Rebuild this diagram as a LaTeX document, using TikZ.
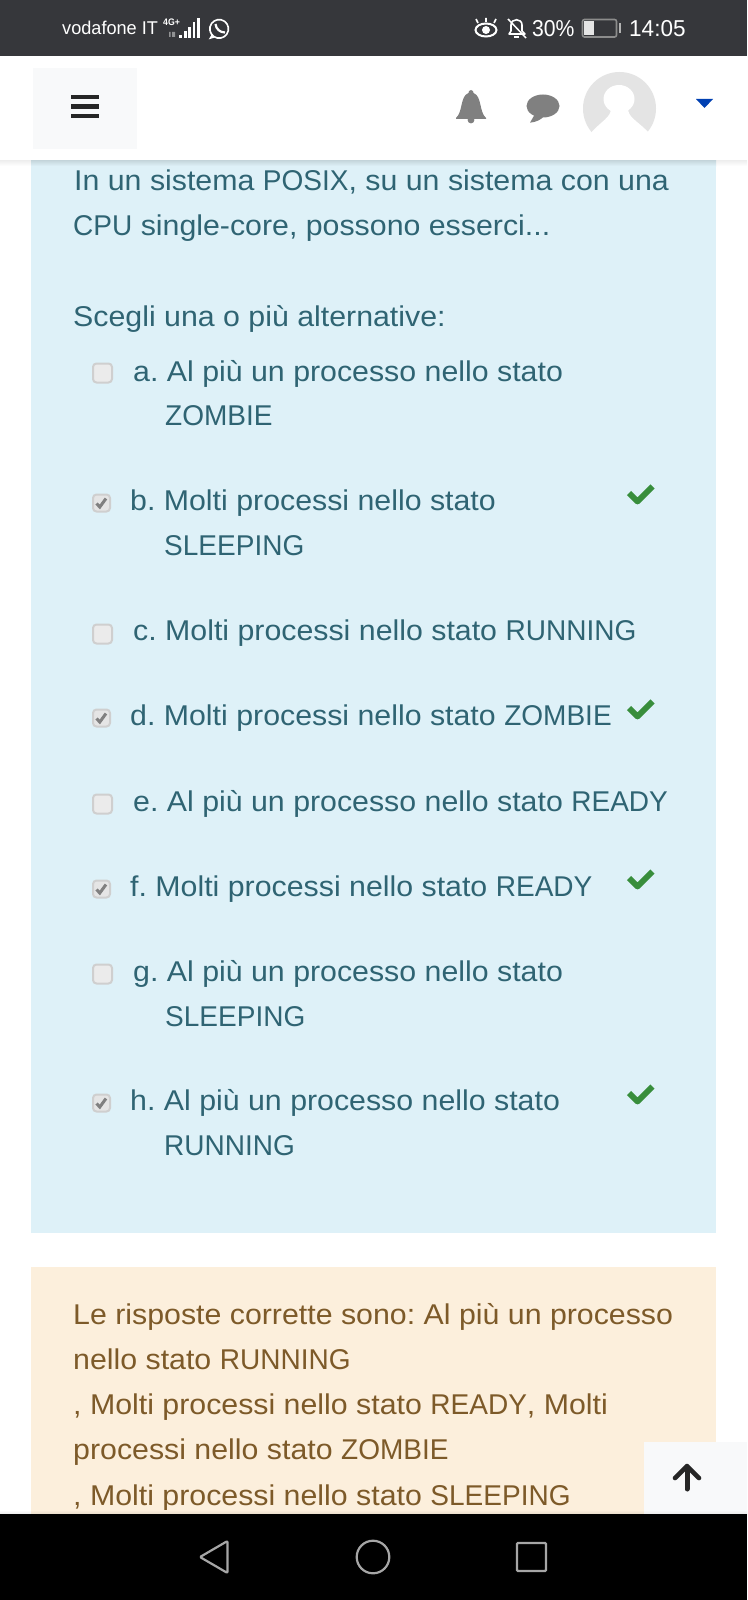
\documentclass[tikz,border=0pt]{standalone}
\usepackage{fontspec}
\setmainfont[FakeStretch=1.06]{Liberation Sans}
\newfontfamily\capsfont[FakeStretch=.98]{Liberation Sans}
\newfontfamily\barfont[FakeStretch=.92]{Liberation Sans}
\newcommand{\cw}[1]{{\capsfont #1}}
\frenchspacing
\usetikzlibrary{calc}
\definecolor{infobg}{HTML}{DEF1F8}
\definecolor{infotext}{HTML}{2F6473}
\definecolor{warnbg}{HTML}{FCEFDC}
\definecolor{warntext}{HTML}{7D5A29}
\definecolor{barbg}{HTML}{36373B}
\definecolor{lightbox}{HTML}{F8F9FA}
\definecolor{okgreen}{HTML}{388E3C}
\definecolor{navgray}{HTML}{A6A6A6}
\definecolor{avatargray}{HTML}{E4E4E4}
\tikzstyle{answer}=[anchor=base west,inner sep=0pt,text=infotext,font=\fontsize{28.6}{34}\selectfont]
\tikzstyle{verdict}=[anchor=base west,inner sep=0pt,text=warntext,font=\fontsize{28.6}{34}\selectfont]
\tikzstyle{statustext}=[anchor=base west,inner sep=0pt,text=white]
\tikzstyle{emptybox}=[draw=black!19,fill=black!8,line width=2pt,rounded corners=3.5pt]
\tikzstyle{tickbox}=[draw=black!19,fill=black!10,line width=2pt,rounded corners=3.5pt]
\tikzstyle{tick}=[draw=okgreen,line width=5.8pt,line join=round]
\tikzstyle{navicon}=[draw=navgray,line width=2.2pt,rounded corners=1pt]
\begin{document}
\begin{tikzpicture}[x=1pt,y=-1pt]
   \useasboundingbox (0,0) rectangle (747,1600);
   \fill[white] (0,0) rectangle (747,1600);

   % panels
   \fill[infobg] (31,160) rectangle (716,1233);
   \fill[warnbg] (31,1267) rectangle (716,1514);

   % question and answers
   \foreach \xpos/\ypos/\name/\label in {
      74/190/Q1/{In un sistema \cw{POSIX}, su un sistema con una},
      73/235/Q2/{\cw{CPU} single-core, possono esserci...},
      73/326/Q3/{Scegli una o più alternative:},
      133/381/Aa/{a. Al più un processo nello stato},
      165/425/Ab/{\cw{ZOMBIE}},
      130/510/Ba/{b. Molti processi nello stato},
      164/555/Bb/{\cw{SLEEPING}},
      133/640/Ca/{c. Molti processi nello stato \cw{RUNNING}},
      130/725/Da/{d. Molti processi nello stato \cw{ZOMBIE}},
      133/811/Ea/{e. Al più un processo nello stato \cw{READY}},
      130/896/Fa/{f. Molti processi nello stato \cw{READY}},
      133/981/Ga/{g. Al più un processo nello stato},
      165/1026/Gb/{\cw{SLEEPING}},
      130/1110/Ha/{h. Al più un processo nello stato},
      164/1155/Hb/{\cw{RUNNING}}}
      \node[answer] (\name) at (\xpos,\ypos) {\label};

   % feedback
   \foreach \xpos/\ypos/\name/\label in {
      73/1324/R1/{Le risposte corrette sono: Al più un processo},
      73/1369/R2/{nello stato \cw{RUNNING}},
      73/1414/R3/{, Molti processi nello stato \cw{READY}, Molti},
      73/1459/R4/{processi nello stato \cw{ZOMBIE}},
      73/1505/R5/{, Molti processi nello stato \cw{SLEEPING}}}
      \node[verdict] (\name) at (\xpos,\ypos) {\label};

   % check boxes
   \foreach \ypos in {373,634,804,974}
      \draw[emptybox] (93,\ypos-9.5) rectangle (112,\ypos+9.5);
   \foreach \ypos in {503,718,889,1103} {
      \draw[tickbox] (93,\ypos-8.5) rectangle (110,\ypos+8.5);
      \draw[black!50,line width=3pt] (96.5,\ypos+.5) -- (99.8,\ypos+4) -- (106,\ypos-4.5);
   }
   % green ticks
   \foreach \ypos in {495,710,880,1095}
      \draw[tick] (629,\ypos-2) -- (637.5,\ypos+6.5) -- (652.5,\ypos-8.5);

   % to top button
   \fill[lightbox] (644,1442) rectangle (747,1514);
   \draw[black!85,line width=4.6pt,line cap=round,line join=round] (675,1478) -- (687,1466) -- (699,1478);
   \draw[black!85,line width=5pt,line cap=round] (687,1468) -- (687,1489);

   % status bar
   \fill[barbg] (0,0) rectangle (747,56);
   \node[statustext,font=\fontsize{18.5}{22}\selectfont\capsfont] (carrier) at (62,35) {vodafone IT};
   \node[statustext,font=\bfseries\fontsize{9.5}{10}\selectfont\barfont] (net) at (163,26) {4G+};
   \fill[white!45!barbg] (169,32) rectangle (170.5,37) (172,32) rectangle (175,37);
   \foreach \xpos/\ytop/\wide in {179/35/3,183.5/31/3,188/27/3.2,192.8/22/2.6,197/18/3}
      \fill[white] (\xpos,\ytop) rectangle (\xpos+\wide,37.7);
   \draw[white,line width=1.6pt] (212,35.5) -- (210.5,38) -- (213.8,37) (213.8,36.5) arc (125:520:9.3);
   \draw[white,line width=2.2pt] (215.5,24) .. controls (216,29) and (220,32.5) .. (225,32.5);
   % eye
   \draw[white,line width=2pt] (486,30) ellipse (10.5 and 6.5);
   \fill[white] (486,30) circle (4);
   \draw[white,line width=1.6pt] (478,23) -- (476,19) (486,22) -- (486,18) (494,23) -- (496,19);
   % bell off
   \draw[white,line width=1.6pt,line join=round] (509,34) -- (511,31) -- (511,25) .. controls (511,18) and (522,18) .. (522,25) -- (522,31) -- (525,34) -- cycle;
   \draw[white,line width=1.5pt] (508,19) -- (526,38);
   \fill[white] (514,36) rectangle (519,38.5);
   \node[statustext,font=\fontsize{23}{26}\selectfont\barfont] (battery) at (532,37) {30\%};
   \draw[black!45,line width=1.6pt,rounded corners=2pt] (582.5,19.5) rectangle (616.5,37);
   \fill[white!90!black] (584,21) rectangle (594,35.5);
   \fill[white!70!black] (619,23) rectangle (620.5,33);
   \node[statustext,font=\fontsize{23}{26}\selectfont\capsfont] (clock) at (629,37) {14:05};

   % header
   \shade[top color=black!7,bottom color=white] (0,160) rectangle (31,166) (716,160) rectangle (747,166);
   \shade[top color=infobg!88!black,bottom color=infobg] (31,160) rectangle (716,166);
   \fill[white] (0,56) rectangle (747,160);
   \fill[lightbox] (33,68) rectangle (137,149);
   \foreach \ypos in {97,106.5,116}
      \draw[black!85,line width=4.6pt] (71,\ypos) -- (99,\ypos);
   % bell
   \fill[black!50] (471,90) .. controls (473,90) and (473.5,92) .. (473.5,93)
      .. controls (482,96) and (479,112) .. (486,118) -- (486,119) -- (456,119) -- (456,118)
      .. controls (463,112) and (460,96) .. (468.5,93) .. controls (468.5,92) and (469,90) .. (471,90) -- cycle;
   \fill[black!50] (471,120) circle (3.4);
   % speech bubble
   \fill[black!50] (543,106) ellipse (16.5 and 11.5);
   \fill[black!50] (535,114) -- (530,122.7) .. controls (536,122) and (541,120) .. (544,116) -- cycle;
   % avatar
   \fill[avatargray] (619.5,108.5) circle (36.5);
   \fill[white] (619,99) ellipse (15.5 and 14);
   \fill[white] (611,108) .. controls (611,118) and (602,120) .. (590,134) -- (590,150) -- (650,150) -- (650,134)
      .. controls (637,120) and (628,118) .. (628,108) -- cycle;
   \fill[blue!60!black!75!cyan] (696,99) -- (713,99) -- (704.5,108) -- cycle;

   % navigation bar
   \shade[top color=white,bottom color=black!8] (0,1510) rectangle (31,1514);
   \shade[top color=warnbg,bottom color=warnbg!92!black] (31,1510) rectangle (644,1514);
   \shade[top color=lightbox,bottom color=black!8] (644,1510) rectangle (747,1514);
   \fill[black] (0,1514) rectangle (747,1600);
   \draw[navicon,line join=round] (200,1557) -- (227.5,1541) -- (227.5,1573) -- cycle;
   \draw[navgray,line width=2.2pt] (373,1557) circle (16.3);
   \draw[navicon] (517,1543) rectangle (546,1571);
\end{tikzpicture}
\end{document}
